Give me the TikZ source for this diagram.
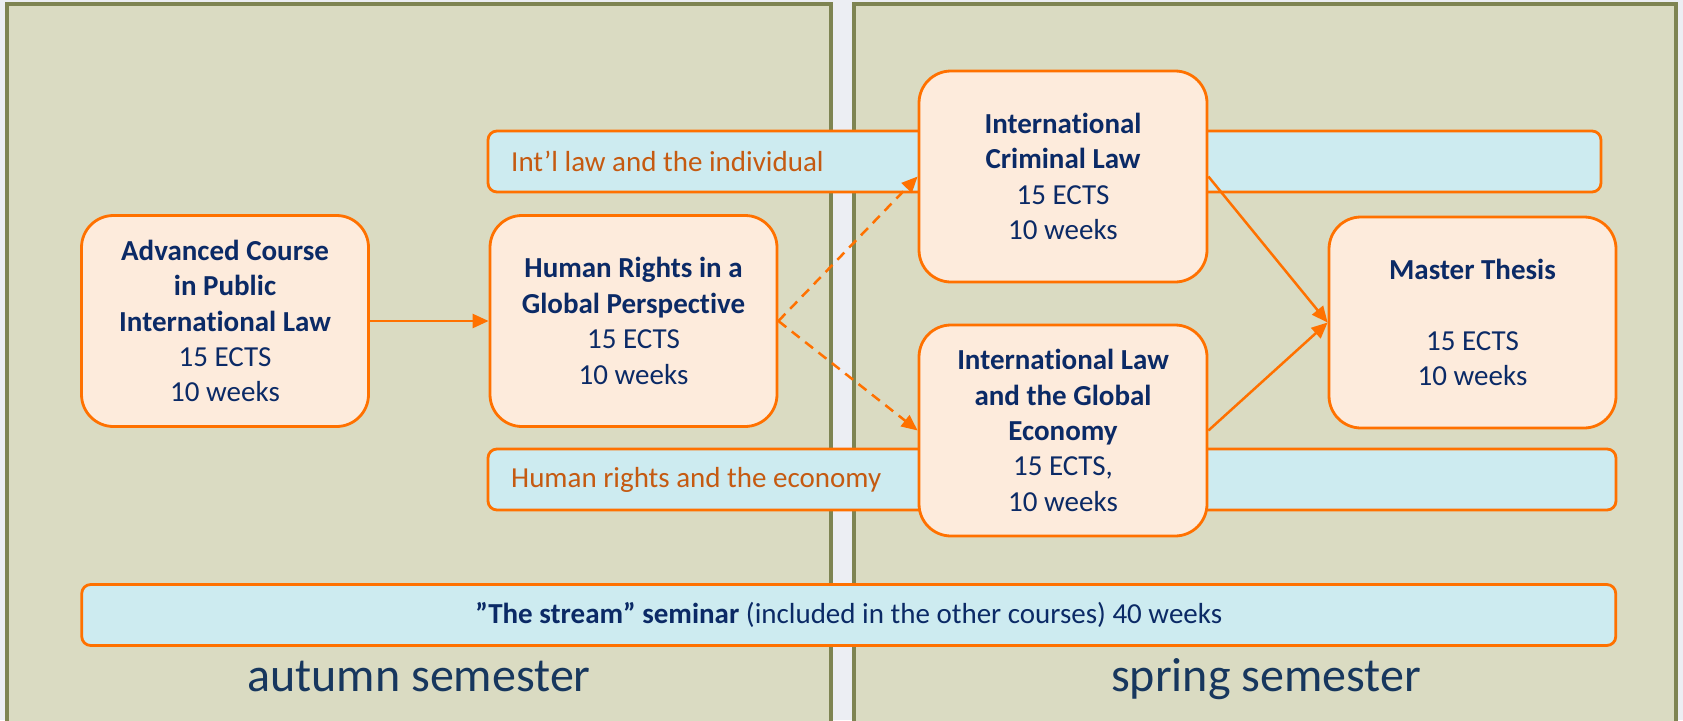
\documentclass[tikz,border=0pt]{standalone}
\usepackage{fontspec}
\setmainfont{Carlito}[Ligatures=NoCommon]
\usetikzlibrary{arrows.meta}
\definecolor{panelfill}{HTML}{DADBC2}
\definecolor{paneledge}{HTML}{7E8452}
\definecolor{bandfill}{HTML}{CDEBF0}
\definecolor{boxfill}{HTML}{FDEBDC}
\definecolor{orng}{HTML}{FF7100}
\definecolor{navy}{HTML}{0B2A66}
\definecolor{semtext}{HTML}{17375E}
\definecolor{bandtext}{HTML}{C55A11}
\definecolor{bgc}{HTML}{ECEEF3}
\tikzset{
  course/.style={draw=orng, fill=boxfill, line width=2.8pt, rounded corners=32pt,
    minimum width=287pt, minimum height=211pt, align=center, text=navy,
    font=\fontsize{29}{35.4}\selectfont, inner sep=0pt},
  band/.style={draw=orng, fill=bandfill, line width=2.8pt, rounded corners=9pt,
    minimum height=61pt, inner sep=0pt},
  bandlabel/.style={anchor=west, text=bandtext, font=\fontsize{29}{35.4}\selectfont, inner sep=0pt},
  panel/.style={draw=paneledge, fill=panelfill, line width=3.2pt},
  semlabel/.style={anchor=base, text=semtext, font=\fontsize{48}{58}\selectfont, inner sep=0pt},
  flow/.style={draw=orng, line width=2.5pt, -{Triangle[length=16pt,width=14pt]}},
  dflow/.style={flow, dash pattern=on 10pt off 7pt}
}
\begin{document}
\begin{tikzpicture}[x=1pt,y=-1pt]
\useasboundingbox (0,0) rectangle (1683,720);
\fill[bgc] (0,0) rectangle (1683,720);
% panels
\path[panel] (7,4) rectangle (831,724);
\path[panel] (854,4) rectangle (1676,724);
% bands
\node[band, minimum width=1113pt] (b1) at (1044.5,161.5) {};
\node[band, minimum width=1128pt] (b2) at (1052,479.5) {};
\node[band, minimum width=1534pt, text=navy, font=\fontsize{29}{35.4}\selectfont] (b3) at (848.75,615)
  {\textbf{”The stream” seminar} (included in the other courses) 40 weeks};
\node[bandlabel] (l1) at (511,161.5) {Int’l law and the individual};
\node[bandlabel] (l2) at (511,479.5) {Human rights and the economy};
% courses
\node[course] (adv) at (225,321) {\textbf{Advanced Course}\\\textbf{in Public}\\\textbf{International Law}\\15 ECTS\\10 weeks};
\node[course] (hr) at (633.5,321) {\textbf{Human Rights in a}\\\textbf{Global Perspective}\\15 ECTS\\10 weeks};
\node[course, minimum width=288pt] (icl) at (1063,176.5) {\textbf{International}\\\textbf{Criminal Law}\\15 ECTS\\10 weeks};
\node[course, minimum width=288pt] (ilge) at (1063,430.5) {\textbf{International Law}\\\textbf{and the Global}\\\textbf{Economy}\\15 ECTS,\\10 weeks};
\node[course] (mt) at (1472.5,322.5) {\textbf{Master Thesis}\\[35.4pt]15 ECTS\\10 weeks};
% connectors
\draw[flow] (adv.east) -- (hr.west);
\draw[dflow] (hr.east) -- (icl.west);
\draw[dflow] (hr.east) -- (ilge.west);
\draw[flow] (icl.east) -- (mt.west);
\draw[flow] (ilge.east) -- (mt.west);
% semester labels
\node[semlabel] (aut) at (419,691) {autumn semester};
\node[semlabel] (spr) at (1266,691) {spring semester};
\end{tikzpicture}
\end{document}
